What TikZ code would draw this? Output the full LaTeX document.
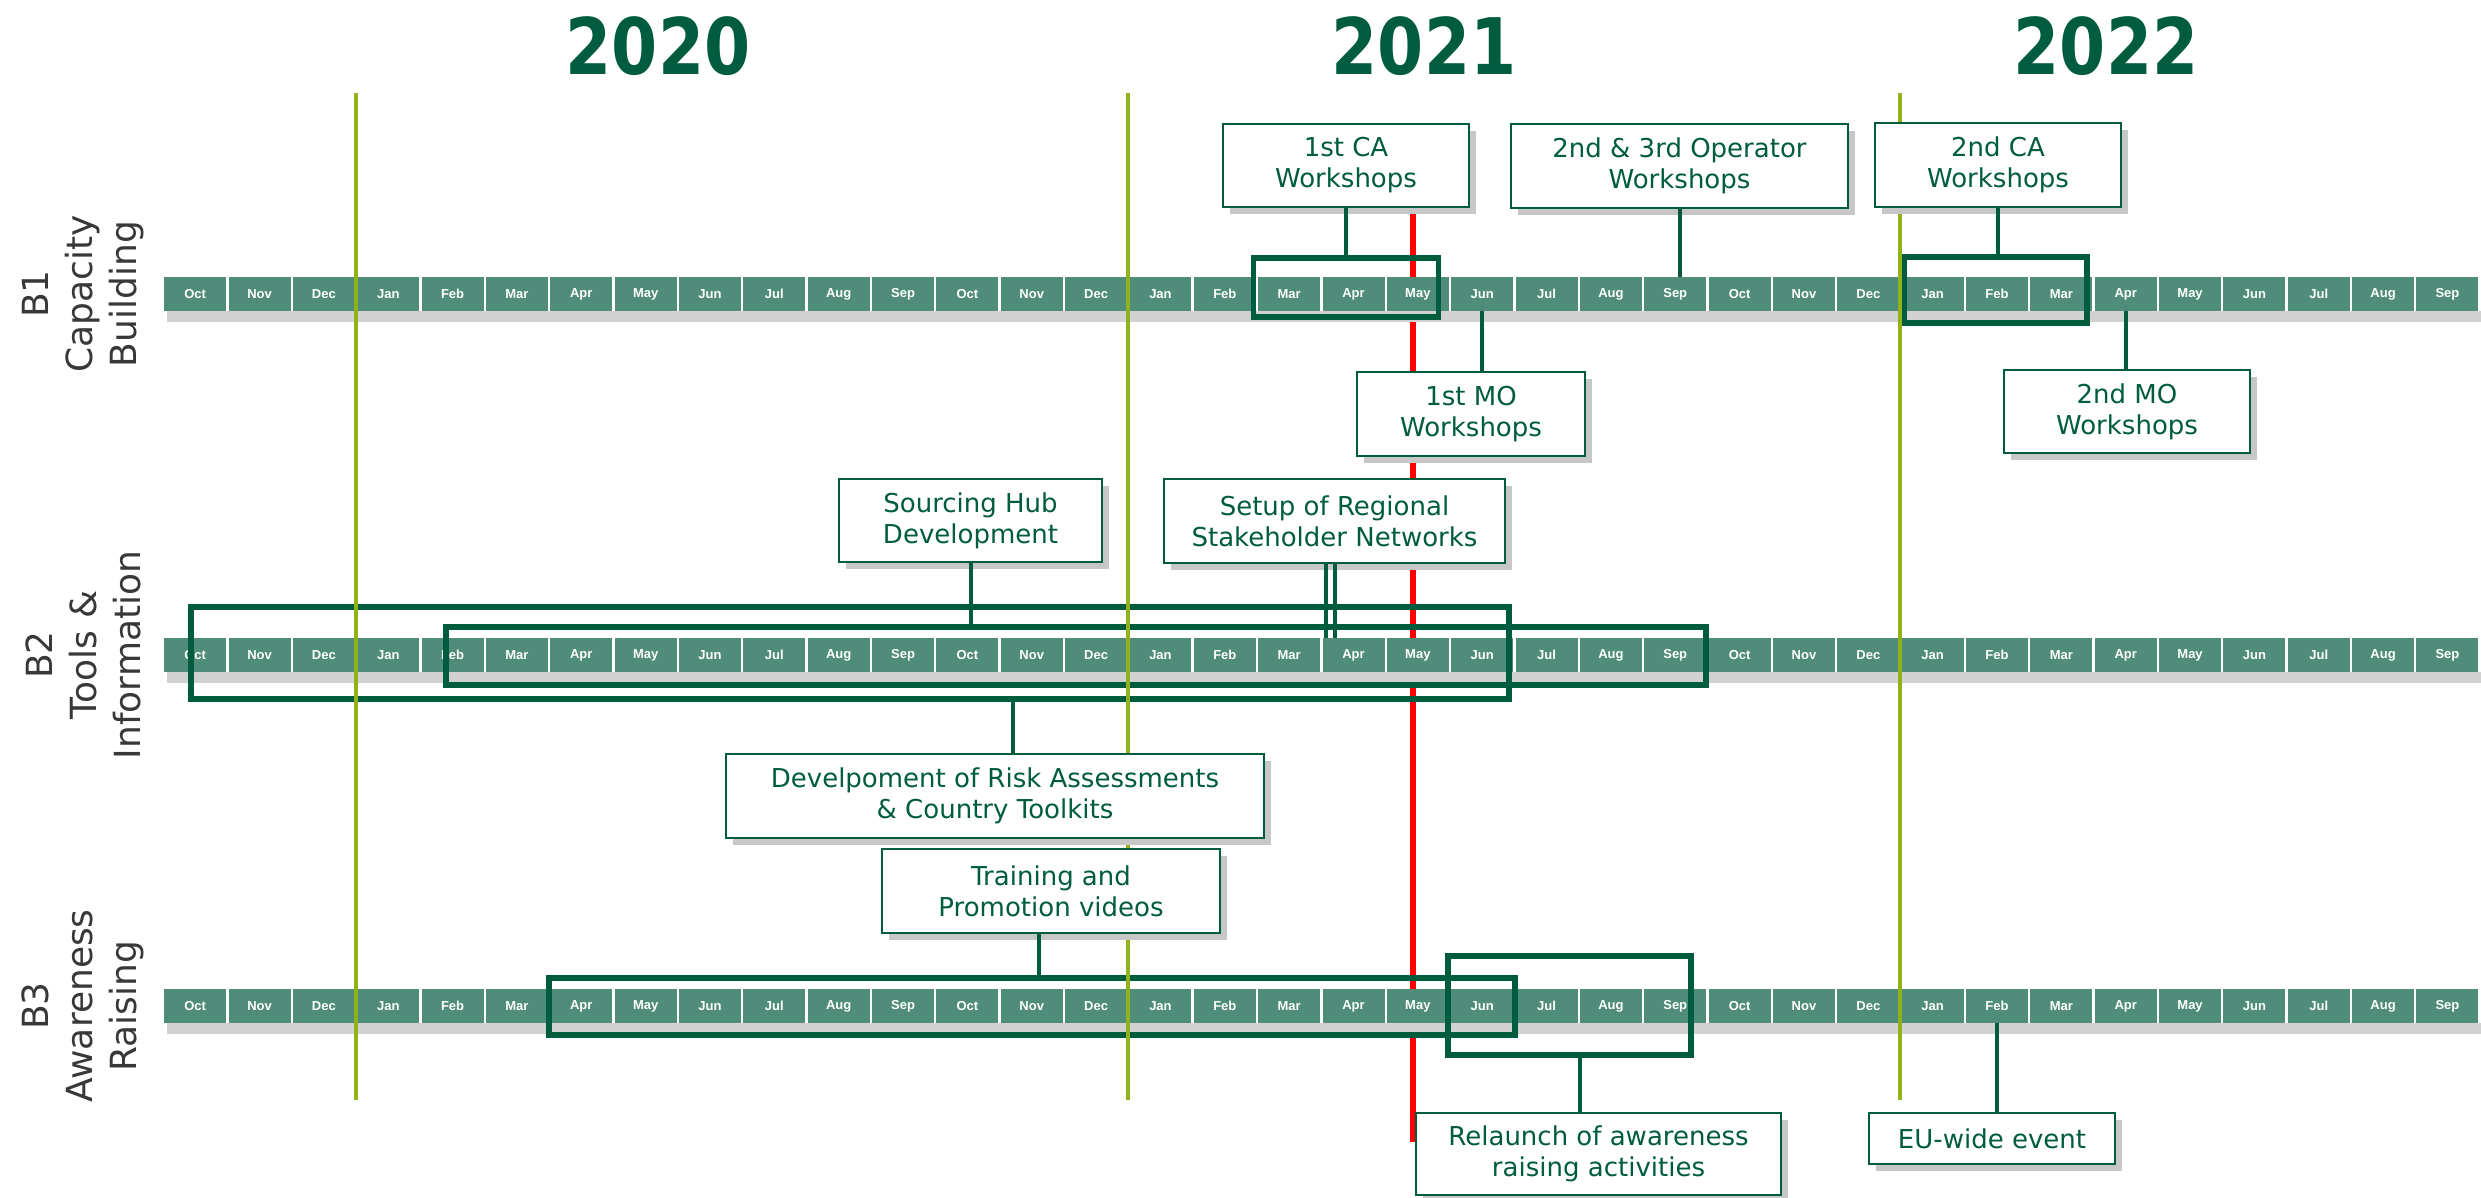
\documentclass[tikz,border=0pt]{standalone}
\usepackage{fontspec}
\setmainfont{DejaVu Sans}
\newfontfamily\monthfont{Liberation Sans}
\newfontfamily\yearfont{DejaVu Sans}[FakeStretch=0.85]
\usetikzlibrary{shadows}
\definecolor{dkgreen}{RGB}{0,92,62}
\definecolor{cellgreen}{RGB}{79,141,122}
\definecolor{yrline}{RGB}{146,178,28}

\begin{document}
\begin{tikzpicture}[x=1pt,y=-1pt,
  month/.style={fill=cellgreen,minimum width=62pt,minimum height=34pt,inner sep=0pt,text=white,font=\monthfont\bfseries\fontsize{13}{13}\selectfont},
  event/.style={draw=dkgreen,line width=2.5pt,fill=white,text=dkgreen,align=center,inner sep=0pt,font=\fontsize{26}{31}\selectfont,drop shadow={shadow xshift=7pt,shadow yshift=-7pt,fill=black!22,opacity=1}},
  period/.style={draw=dkgreen,line width=5.5pt,inner sep=0pt},
  link/.style={dkgreen,line width=4pt},
  year/.style={text=dkgreen,font=\yearfont\bfseries\fontsize{78}{78}\selectfont},
  lane/.style={rotate=90,align=center,text=black!78,font=\fontsize{36}{44}\selectfont}]
\useasboundingbox (0,0) rectangle (2481,1198);

\draw[red,line width=6pt] (1413,130) -- (1413,1142);

\foreach \rw/\yt in {b1/277,b2/638,b3/989}{
  \fill[black!18] (167,\yt+34) rectangle (2481,\yt+45);
  \foreach \m [count=\i from 0] in {Oct,Nov,Dec,Jan,Feb,Mar,Apr,May,Jun,Jul,Aug,Sep,Oct,Nov,Dec,Jan,Feb,Mar,Apr,May,Jun,Jul,Aug,Sep,Oct,Nov,Dec,Jan,Feb,Mar,Apr,May,Jun,Jul,Aug,Sep}
    \node[month] (\rw m\i) at (195.2+64.35*\i,\yt+17) {\m};
}

\node[period,minimum width=185pt,minimum height=59pt] (caA) at (1346,287.5) {};
\node[period,minimum width=183pt,minimum height=66pt] (caB) at (1995.5,290) {};
\node[period,minimum width=1318pt,minimum height=92pt] (riskA) at (850,653) {};
\node[period,minimum width=1260pt,minimum height=58pt] (hubA) at (1076,656) {};
\node[period,minimum width=966pt,minimum height=57pt] (vidA) at (1032,1006.5) {};
\node[period,minimum width=243pt,minimum height=99pt] (relA) at (1569.5,1005.5) {};

\foreach \x in {356,1128,1900}
  \draw[yrline,line width=4.5pt] (\x,93) -- (\x,1100);

\node[event,minimum width=246pt,minimum height=83pt] (ca1) at (1346,165.5) {1st CA\\Workshops};
\node[event,minimum width=337pt,minimum height=84pt] (op23) at (1679.5,166) {2nd \& 3rd Operator\\Workshops};
\node[event,minimum width=246pt,minimum height=84pt] (ca2) at (1998,165) {2nd CA\\Workshops};
\node[event,minimum width=228pt,minimum height=84pt] (mo1) at (1471,414) {1st MO\\Workshops};
\node[event,minimum width=246pt,minimum height=83pt] (mo2) at (2127,411.5) {2nd MO\\Workshops};
\node[event,minimum width=263pt,minimum height=83pt] (hub) at (970.5,520.5) {Sourcing Hub\\Development};
\node[event,minimum width=341pt,minimum height=84pt] (net) at (1334.5,521) {Setup of Regional\\Stakeholder Networks};
\node[event,minimum width=538pt,minimum height=84pt] (risk) at (995,796) {Develpoment of Risk Assessments\\\& Country Toolkits};
\node[event,minimum width=338pt,minimum height=84pt] (video) at (1051,891) {Training and\\Promotion videos};
\node[event,minimum width=365pt,minimum height=82pt] (relaunch) at (1598.5,1154) {Relaunch of awareness\\raising activities};
\node[event,minimum width=246pt,minimum height=51pt] (eu) at (1992,1138.5) {EU-wide event};

\draw[link] (ca1.south) -- (caA.north);
\draw[link] (op23.south) -- (op23.south |- b1m23.north);
\draw[link] (ca2.south) -- (ca2.south |- caB.north);
\draw[link] (b1m20.south) -- (b1m20.south |- mo1.north);
\draw[link] (b1m30.south) -- (b1m30.south |- mo2.north);
\draw[link] (hub.south) -- (hub.south |- hubA.north);
\draw[link] (net.south) -- (net.south |- b2m18.north);
\draw[link] ([xshift=-9pt]net.south) -- ([xshift=-9pt]net.south |- b2m18.north);
\draw[link] ([xshift=18pt]risk.north) -- ([xshift=18pt]risk.north |- riskA.south);
\draw[link] ([xshift=-12pt]video.south) -- ([xshift=-12pt]video.south |- vidA.north);
\draw[link] ([xshift=10pt]relA.south) -- ([xshift=10pt]relA.south |- relaunch.north);
\draw[link] (b3m28.south) -- (b3m28.south |- eu.north);

\node[year] (y2020) at (658,46) {2020};
\node[year] (y2021) at (1424,46) {2021};
\node[year] (y2022) at (2106,46) {2022};

\node[lane] (lane1) at (83,294) {B1\\Capacity\\Building};
\node[lane] (lane2) at (83,655) {B2\\Tools \&\\Information};
\node[lane] (lane3) at (83,1006) {B3\\Awareness\\Raising};
\end{tikzpicture}
\end{document}
